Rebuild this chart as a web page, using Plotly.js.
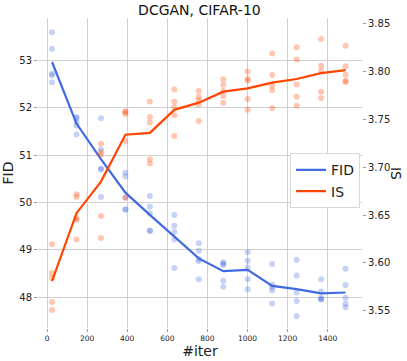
<!DOCTYPE html>
<html>
<head>
<meta charset="utf-8">
<script src="https://cdn.plot.ly/plotly-3.0.1.min.js"></script>
<style>
  html, body { margin: 0; padding: 0; background: #fff; }
  #chart { width: 407px; height: 361px; }
</style>
</head>
<body>
<div id="chart"></div>
<script>
// iteraciones (eje x)
const iters = [25, 147, 269, 391, 513, 635, 757, 879, 1001, 1123, 1245, 1367, 1489];

// FID: curva media y runs individuales (5 por iteración)
const fidMean = [52.97, 51.67, 50.92, 50.21, 49.74, 49.29, 48.82, 48.55, 48.58, 48.24, 48.17, 48.08, 48.10];
const fidRuns = [
  [53.60, 53.25, 52.72, 52.69, 52.54],
  [51.81, 51.78, 51.63, 51.44, 51.70],
  [51.78, 51.12, 50.72, 50.70, 50.12],
  [50.63, 50.55, 50.10, 49.86, 49.85],
  [50.14, 49.91, 49.77, 49.41, 49.40],
  [49.74, 49.51, 49.38, 49.22, 48.62],
  [49.14, 48.98, 48.81, 48.76, 48.38],
  [48.74, 48.71, 48.68, 48.35, 48.22],
  [48.95, 48.77, 48.63, 48.38, 48.17],
  [48.70, 48.27, 48.21, 48.15, 47.87],
  [48.79, 48.46, 48.10, 47.92, 47.60],
  [48.38, 48.12, 47.99, 47.96, 47.95],
  [48.60, 48.26, 47.99, 47.86, 47.79]
];

// IS: curva media y runs individuales
const isMean = [3.581, 3.652, 3.685, 3.734, 3.736, 3.760, 3.7675, 3.779, 3.7825, 3.7884, 3.7922, 3.7984, 3.8016];
const isRuns = [
  [3.6196, 3.5894, 3.5845, 3.5591, 3.5507],
  [3.6718, 3.669, 3.647, 3.645, 3.6245],
  [3.7245, 3.716, 3.713, 3.649, 3.626],
  [3.7585, 3.7577, 3.7556, 3.7275, 3.6684],
  [3.7686, 3.7525, 3.7467, 3.7083, 3.7039],
  [3.7814, 3.7686, 3.763, 3.7543, 3.7327],
  [3.7797, 3.7734, 3.770, 3.7655, 3.7483],
  [3.7919, 3.7863, 3.7797, 3.7744, 3.7675],
  [3.800, 3.7926, 3.7905, 3.7713, 3.7602],
  [3.819, 3.7963, 3.7853, 3.7804, 3.7616],
  [3.8253, 3.8127, 3.7866, 3.7738, 3.7644],
  [3.834, 3.8062, 3.8005, 3.779, 3.7723],
  [3.827, 3.8057, 3.7968, 3.7905, 3.789]
];

const fidTicks = [48, 49, 50, 51, 52, 53];
const isTicks = [3.55, 3.60, 3.65, 3.70, 3.75, 3.80, 3.85];
const iterTicks = [0, 200, 400, 600, 800, 1000, 1200, 1400];

const BLUE = '#4169E1';
const ORANGE = '#FF4500';
const FONT = 'DejaVu Sans, sans-serif';

// aplanar los runs para el scatter
function flatten(runs) {
  const x = [], y = [];
  runs.forEach((r, i) => r.forEach(v => { x.push(iters[i]); y.push(v); }));
  return { x, y };
}
const fidPts = flatten(fidRuns);
const isPts = flatten(isRuns);

const traces = [
  {
    x: fidPts.x, y: fidPts.y, type: 'scatter', mode: 'markers',
    marker: { color: BLUE, size: 6, opacity: 0.3 },
    showlegend: false, hoverinfo: 'skip'
  },
  {
    x: iters, y: fidMean, type: 'scatter', mode: 'lines', name: 'FID',
    line: { color: BLUE, width: 2.2 }
  },
  {
    x: isPts.x, y: isPts.y, type: 'scatter', mode: 'markers', yaxis: 'y2',
    marker: { color: ORANGE, size: 6, opacity: 0.3 },
    showlegend: false, hoverinfo: 'skip'
  },
  {
    x: iters, y: isMean, type: 'scatter', mode: 'lines', name: 'IS', yaxis: 'y2',
    line: { color: ORANGE, width: 2.2 }
  }
];

const layout = {
  width: 407, height: 361,
  margin: { l: 38, r: 45, t: 18, b: 33 },
  paper_bgcolor: '#fff', plot_bgcolor: '#fff',
  font: { family: FONT, color: '#222' },
  title: { text: 'DCGAN, CIFAR-10', font: { size: 14, family: FONT, color: '#111' }, x: 0.49, xanchor: 'center', y: 0.972, yanchor: 'middle' },
  xaxis: {
    range: [-45, 1571], tickvals: iterTicks, ticktext: iterTicks.map(String),
    tickfont: { size: 7.5 }, ticks: 'outside', ticklen: 3, tickcolor: '#999',
    showline: false, zeroline: false, gridcolor: '#d0d0d0', gridwidth: 1,
    title: { text: '#iter', font: { size: 14 }, standoff: 4 }
  },
  yaxis: {
    range: [47.35, 53.9], tickvals: fidTicks, ticktext: fidTicks.map(String),
    tickfont: { size: 10 }, ticks: 'outside', ticklen: 3, tickcolor: '#999',
    showline: false, zeroline: false, gridcolor: '#d0d0d0', gridwidth: 1,
    title: { text: 'FID', font: { size: 14 }, standoff: 6 }
  },
  yaxis2: {
    overlaying: 'y', side: 'right',
    range: [3.532, 3.856], tickvals: isTicks, ticktext: isTicks.map(v => v.toFixed(2)),
    tickfont: { size: 10 }, ticks: 'outside', ticklen: 3, tickcolor: '#999',
    showline: false, zeroline: false, showgrid: false
  },
  legend: {
    x: 0.778, y: 0.5635, xanchor: 'left', yanchor: 'top',
    bgcolor: '#fff', bordercolor: '#d8d8d8', borderwidth: 1,
    font: { size: 14 }, tracegroupgap: 0
  },
  annotations: [{
    text: 'IS', xref: 'paper', yref: 'paper', x: 1.105, y: 0.5,
    xanchor: 'center', yanchor: 'middle', showarrow: false, textangle: 90,
    font: { size: 14, color: '#111' }
  }]
};

Plotly.newPlot('chart', traces, layout, { displayModeBar: false, staticPlot: true });
</script>
</body>
</html>
